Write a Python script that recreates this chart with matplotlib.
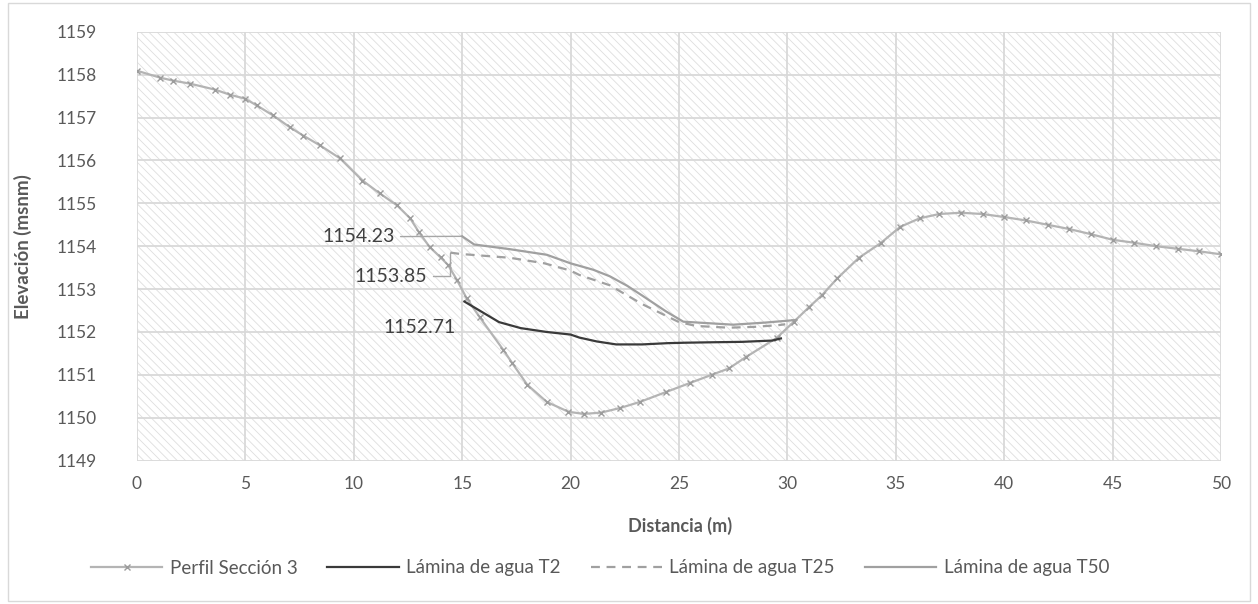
import matplotlib
matplotlib.use("Agg")
import matplotlib.pyplot as plt
from matplotlib.patches import Rectangle

plt.rcParams['font.family'] = ['Lato', 'DejaVu Sans']
plt.rcParams['hatch.linewidth'] = 0.6
plt.rcParams['hatch.color'] = '#dedede'

# Perfil del terreno, sección 3
dist_perfil = [0, 1.06, 1.66, 2.44, 3.6, 4.29, 4.98, 5.53, 6.27, 7.06, 7.66, 8.44, 9.36,
               10.4, 11.2, 12.0, 12.6, 13.0, 13.5, 14.0, 14.35, 14.76, 15.2, 15.8, 16.9,
               17.3, 18.0, 18.9, 19.9, 20.6, 21.4, 22.3, 23.2, 24.4, 25.5, 26.5, 27.3,
               28.1, 29.5, 30.3, 31.0, 31.6, 32.3, 33.3, 34.3, 35.2, 36.1, 37.0, 38.0,
               39.0, 40.0, 41.0, 42.0, 43.0, 44.0, 45.0, 46.0, 47.0, 48.0, 49.0, 50.0]
elev_perfil = [1158.09, 1157.93, 1157.86, 1157.79, 1157.65, 1157.53, 1157.44, 1157.28,
               1157.05, 1156.77, 1156.58, 1156.35, 1156.05, 1155.53, 1155.23, 1154.95,
               1154.65, 1154.33, 1153.98, 1153.74, 1153.56, 1153.21, 1152.79, 1152.35,
               1151.58, 1151.28, 1150.77, 1150.37, 1150.14, 1150.09, 1150.12, 1150.23,
               1150.37, 1150.6, 1150.81, 1151.0, 1151.15, 1151.42, 1151.86, 1152.24,
               1152.58, 1152.86, 1153.25, 1153.73, 1154.07, 1154.45, 1154.65, 1154.75,
               1154.78, 1154.75, 1154.68, 1154.6, 1154.5, 1154.4, 1154.28, 1154.15,
               1154.08, 1154.0, 1153.94, 1153.88, 1153.81]

# Lámina de agua para periodos de retorno de 2, 25 y 50 años
dist_t2 = [15.1, 16.7, 17.7, 18.9, 20.0, 20.4, 21.2, 22.1, 23.3, 24.5, 25.3, 26.5, 27.9, 29.3, 29.7]
elev_t2 = [1152.71, 1152.23, 1152.09, 1152.0, 1151.94, 1151.87, 1151.78, 1151.71, 1151.71,
           1151.74, 1151.75, 1151.76, 1151.77, 1151.8, 1151.85]

dist_t25 = [14.45, 14.9, 17.2, 18.8, 20.0, 20.4, 21.8, 23.3, 25.0, 25.8, 27.3, 28.5, 29.6, 29.9]
elev_t25 = [1153.85, 1153.82, 1153.73, 1153.6, 1153.43, 1153.33, 1153.09, 1152.65, 1152.23,
            1152.14, 1152.1, 1152.12, 1152.16, 1152.18]

dist_t50 = [15.0, 15.55, 17.2, 18.9, 20.0, 21.05, 21.8, 22.6, 23.3, 24.4, 25.2, 27.5, 29.0, 30.4]
elev_t50 = [1154.23, 1154.04, 1153.93, 1153.8, 1153.6, 1153.45, 1153.3, 1153.08, 1152.85,
            1152.48, 1152.24, 1152.17, 1152.22, 1152.28]

fig = plt.figure(figsize=(12.58, 6.04), dpi=100)
ax = fig.add_axes([0.1089, 0.2373, 0.8617, 0.7102])

# fondo rayado del área de trazado
ax.add_patch(Rectangle((0, 0), 1, 1, transform=ax.transAxes, facecolor='white',
                       edgecolor='#dedede', linewidth=0, hatch='\\\\\\\\', zorder=0))

ax.plot(dist_perfil, elev_perfil, color='#b4b4b4', lw=1.6, marker='x', ms=5,
        mec='#9c9c9c', mew=1.0, label='Perfil Sección 3', zorder=3)
ax.plot(dist_t2, elev_t2, color='#3a3a3a', lw=1.6, label='Lámina de agua T2', zorder=4)
ax.plot(dist_t25, elev_t25, color='#a0a0a0', lw=1.6, ls=(0, (4, 3)),
        label='Lámina de agua T25', zorder=4)
ax.plot(dist_t50, elev_t50, color='#a0a0a0', lw=1.6, label='Lámina de agua T50', zorder=4)

# etiquetas de valor con líneas guía
lbl = dict(fontsize=14, color='#404040', va='center', ha='right')
guia = dict(arrowstyle='-', color='#a6a6a6', lw=1.0, shrinkA=2, shrinkB=0)
ax.annotate(f'{elev_t50[0]:.2f}', xy=(dist_t50[0], elev_t50[0]), xytext=(11.9, 1154.22),
            arrowprops=guia, **lbl)
ax.annotate(f'{elev_t25[0]:.2f}', xy=(dist_t25[0], elev_t25[0]), xytext=(13.4, 1153.3),
            arrowprops=dict(guia, connectionstyle='angle,angleA=0,angleB=90,rad=0'), **lbl)
ax.text(14.7, 1152.1, f'{elev_t2[0]:.2f}', **lbl)

ax.set_xlim(0, 50)
ax.set_ylim(1149, 1159)
ax.set_xticks(range(0, 51, 5))
ax.set_yticks(range(1149, 1160))
ax.grid(True, color='#d9d9d9', lw=1.3)
ax.set_axisbelow(False)
for s in ax.spines.values():
    s.set_visible(False)
ax.tick_params(length=0, labelsize=12.5, labelcolor='#595959', pad=11)
ax.tick_params(axis='y', pad=29)

ax.set_xlabel('Distancia (m)', fontsize=13, fontweight='bold', color='#595959')
ax.xaxis.set_label_coords(0.501, -0.13)
ax.set_ylabel('Elevación (msnm)', fontsize=13.5, fontweight='bold', color='#595959')
ax.yaxis.set_label_coords(-0.097, 0.5)

leg = fig.legend(*ax.get_legend_handles_labels(), loc='center',
                 bbox_to_anchor=(600 / 1258, 1 - 568 / 604), ncol=4, frameon=False,
                 fontsize=13.5, handlelength=3.8, columnspacing=1.6, handletextpad=0.4)
for t in leg.get_texts():
    t.set_color('#595959')

fig.add_artist(Rectangle((0.006, 0.005), 0.988, 0.99, transform=fig.transFigure,
                         fill=False, edgecolor='#d9d9d9', lw=1.0))

fig.savefig('out.png', dpi=100)
